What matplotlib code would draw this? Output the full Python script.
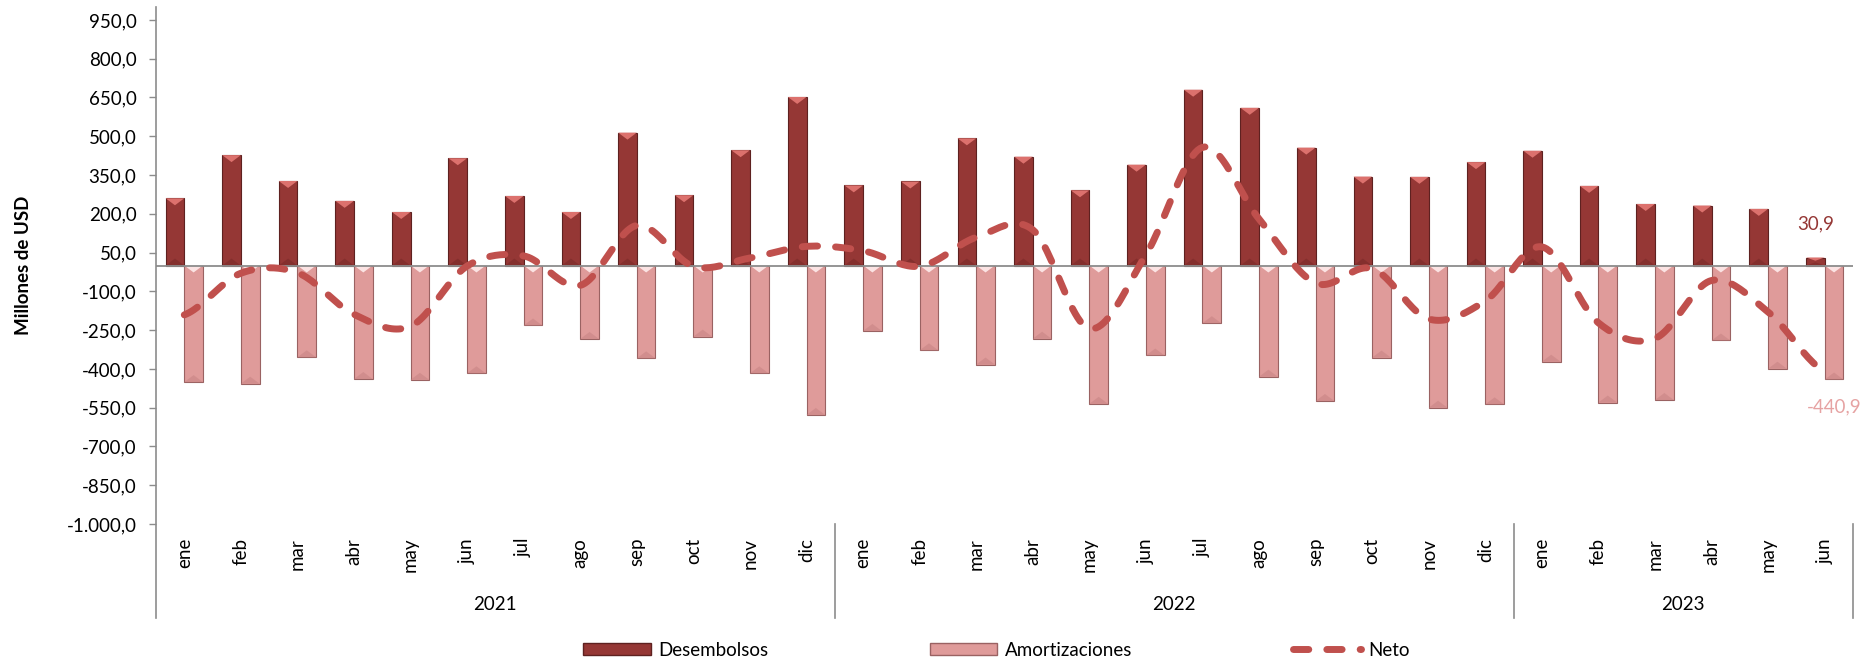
import numpy as np
import matplotlib.pyplot as plt
import matplotlib.transforms as mtransforms
from matplotlib.patches import Patch, Polygon
from matplotlib.lines import Line2D

plt.rcParams['font.family'] = ['Lato', 'DejaVu Sans']

years = ['2021', '2022', '2023']
meses = ['ene', 'feb', 'mar', 'abr', 'may', 'jun', 'jul', 'ago', 'sep', 'oct', 'nov', 'dic',
         'ene', 'feb', 'mar', 'abr', 'may', 'jun', 'jul', 'ago', 'sep', 'oct', 'nov', 'dic',
         'ene', 'feb', 'mar', 'abr', 'may', 'jun']

desembolsos = [260, 427, 327, 250, 207, 415, 269, 207, 514, 272, 446, 652,
               310, 325, 492, 421, 291, 390, 680, 610, 456, 344, 343, 400,
               444, 308, 238, 232, 219, 30.9]
amortizaciones = [-451, -457, -355, -439, -442, -417, -232, -284, -359, -275, -417, -578,
                  -253, -328, -383, -283, -535, -348, -223, -430, -524, -356, -550, -537,
                  -372, -530, -520, -290, -399, -440.9]
neto = [-191, -30, -28, -189, -235, -2, 37, -77, 155, -3, 29, 74,
        57, -3, 109, 138, -244, 42, 457, 180, -68, -12, -207, -137,
        72, -222, -282, -58, -180, -410]

C_DES = '#953735'
C_DES_EDGE = '#5e2120'
C_DES_HI = '#dc716d'
C_DES_LO = '#7a2a29'
C_AMO = '#df9b9a'
C_AMO_EDGE = '#9a6262'
C_AMO_HI = '#fbe3e3'
C_AMO_LO = '#c98585'
C_NETO = '#c0504d'
GRAY = '#8c8c8c'
FS = 13.5


def fmt(v):
    s = f"{v:,.1f}"
    return s.replace(',', 'X').replace('.', ',').replace('X', '.')


def smooth(y, n=24):
    # catmull-rom, similar to excel's smoothed line
    y = np.asarray(y, float)
    p = np.concatenate([[y[0]], y, [y[-1]]])
    xs, ys = [], []
    for i in range(len(y) - 1):
        p0, p1, p2, p3 = p[i], p[i + 1], p[i + 2], p[i + 3]
        t = np.linspace(0, 1, n, endpoint=False)
        yy = 0.5 * (2 * p1 + (-p0 + p2) * t + (2 * p0 - 5 * p1 + 4 * p2 - p3) * t ** 2
                    + (-p0 + 3 * p1 - 3 * p2 + p3) * t ** 3)
        xs.extend(i + t)
        ys.extend(yy)
    xs.append(len(y) - 1)
    ys.append(y[-1])
    return np.array(xs), np.array(ys)


def bevel(ax, bars, hi, lo, depth):
    for b in bars:
        x0, w, h = b.get_x(), b.get_width(), b.get_height()
        if h == 0:
            continue
        d = min(depth, abs(h) / 2.5)
        top = h if h > 0 else 0
        bot = 0 if h > 0 else h
        ax.add_patch(Polygon([(x0, top), (x0 + w, top), (x0 + w / 2, top - d)],
                             closed=True, facecolor=hi, edgecolor='none', zorder=2.5))
        ax.add_patch(Polygon([(x0, bot), (x0 + w, bot), (x0 + w / 2, bot + d)],
                             closed=True, facecolor=lo, edgecolor='none', zorder=2.5, alpha=0.6))


fig = plt.figure(figsize=(18.64, 6.58), dpi=100)
ax = fig.add_axes([156 / 1864, 1 - 524 / 658, 1697 / 1864, 517 / 658])

x = np.arange(len(meses))
w = 0.33
b1 = ax.bar(x - w / 2, desembolsos, w, color=C_DES, edgecolor=C_DES_EDGE, linewidth=0.8, zorder=2)
b2 = ax.bar(x + w / 2, amortizaciones, w, color=C_AMO, edgecolor=C_AMO_EDGE, linewidth=0.8, zorder=2)
bevel(ax, b1, C_DES_HI, C_DES_LO, 27)
bevel(ax, b2, C_AMO_HI, C_AMO_LO, 27)

ax.axhline(0, color=GRAY, lw=1.3, zorder=3)

sx, sy = smooth(neto)
ax.plot(sx, sy, color=C_NETO, lw=5, dashes=(2.2, 2.6), dash_capstyle='round', zorder=5)

ax.set_xlim(-0.5, len(meses) - 0.5)
ax.set_ylim(-1000, 1000)
ticks = np.arange(-1000, 951, 150)
ax.set_yticks(ticks)
ax.set_yticklabels([fmt(t) for t in ticks])
ax.tick_params(axis='y', length=5, width=1, color=GRAY, labelsize=FS, pad=9, direction='out')
ax.set_xticks([])
for s in ['top', 'right', 'bottom', 'left']:
    ax.spines[s].set_visible(False)

# left axis line, running down through the category area
ax.add_line(Line2D([0, 0], [1, -0.182], transform=ax.transAxes, color=GRAY, lw=1.2, clip_on=False))

trans = mtransforms.blended_transform_factory(ax.transData, ax.transAxes)
for i, m in enumerate(meses):
    ax.text(i, -0.027, m, transform=trans, rotation=90, ha='center', va='top', fontsize=FS)
for b in [11.5, 23.5, 29.5]:
    ax.add_line(Line2D([b, b], [0, -0.182], transform=trans, color=GRAY, lw=1.2, clip_on=False))
for yr, c in zip(years, [5.5, 17.5, 26.5]):
    ax.text(c, -0.155, yr, transform=trans, ha='center', va='center', fontsize=FS)

fig.text(24 / 1864, 1 - 265 / 658, 'Millones de USD', rotation=90, ha='center', va='center',
         fontsize=13.5, fontweight='bold')

# data labels for last month
ax.annotate(fmt(desembolsos[-1]), (x[-1] - w / 2, desembolsos[-1]), xytext=(0, 24),
            textcoords='offset points', ha='center', va='center', color=C_DES, fontsize=FS)
ax.annotate(fmt(amortizaciones[-1]), (x[-1] + w / 2, amortizaciones[-1]), xytext=(0, -20),
            textcoords='offset points', ha='center', va='center', color='#e6a3a3', fontsize=FS)

handles = [Patch(facecolor=C_DES, edgecolor=C_DES_EDGE),
           Patch(facecolor=C_AMO, edgecolor=C_AMO_EDGE),
           Line2D([], [], color=C_NETO, lw=5, dashes=(2.2, 2.6), dash_capstyle='round')]
fig.legend(handles, ['Desembolsos', 'Amortizaciones', 'Neto'], loc='center',
           bbox_to_anchor=(0.5346, 0.012), ncol=3, frameon=False, fontsize=FS,
           handlelength=3.6, handleheight=0.55, columnspacing=8.6, handletextpad=0.4)

fig.savefig('out.png', dpi=100)
